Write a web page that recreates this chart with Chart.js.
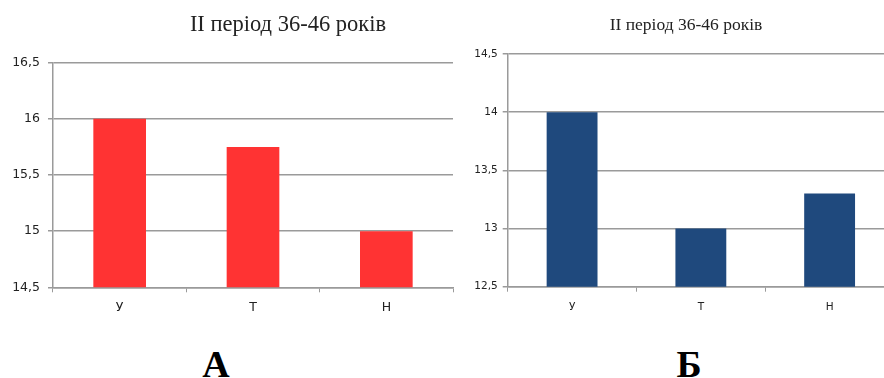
<!DOCTYPE html>
<html>
<head>
<meta charset="utf-8">
<script src="https://cdn.jsdelivr.net/npm/chart.js@4/dist/chart.umd.min.js"></script>
<style>
  html,body{margin:0;padding:0;background:#fff;}
  body{width:884px;height:378px;position:relative;overflow:hidden;}
  .box{position:absolute;}
  .ttl{position:absolute;font-family:"Liberation Serif",serif;color:#222;line-height:1;white-space:nowrap;transform:translateX(-50%);}
  .lbl{position:absolute;font-family:"Liberation Serif",serif;font-weight:bold;color:#000;line-height:1;font-size:38px;transform:translateX(-50%);}
</style>
</head>
<body>
<div class="box" style="left:0;top:0;width:460px;height:330px;"><canvas id="chartA"></canvas></div>
<div class="box" style="left:460px;top:0;width:434px;height:330px;"><canvas id="chartB"></canvas></div>
<div class="ttl" id="titleA" style="left:288px;top:13px;font-size:22.5px;"></div>
<div class="ttl" id="titleB" style="left:686px;top:16px;font-size:17.5px;"></div>
<div class="lbl" style="left:216px;top:345px;">А</div>
<div class="lbl" style="left:689px;top:345px;">Б</div>
<script>
const title = 'II період 36-46 років';
const categories = ['У', 'Т', 'Н'];

const valuesA = [16, 15.75, 15];
const ticksA = ['14,5', '15', '15,5', '16', '16,5'];

const valuesB = [14, 13, 13.3];
const ticksB = ['12,5', '13', '13,5', '14', '14,5'];

document.getElementById('titleA').textContent = title;
document.getElementById('titleB').textContent = title;

function makeChart(id, values, tickLabels, color, opt){
  const min = parseFloat(tickLabels[0].replace(',', '.'));
  const max = parseFloat(tickLabels[tickLabels.length-1].replace(',', '.'));
  return new Chart(document.getElementById(id), {
    type: 'bar',
    data: {
      labels: categories,
      datasets: [{ data: values, backgroundColor: color, barPercentage: 0.395, categoryPercentage: 1 }]
    },
    options: {
      responsive: true,
      maintainAspectRatio: false,
      animation: false,
      layout: { padding: { left: 0, right: opt.right, top: opt.top, bottom: 0 } },
      plugins: { legend: { display: false }, tooltip: { enabled: false } },
      scales: {
        x: {
          grid: { offset: true, drawOnChartArea: false, drawTicks: true, tickLength: 5, color: '#9a9a9a' },
          border: { color: '#9a9a9a', width: 1.5 },
          ticks: { color: '#222', font: { family: 'DejaVu Sans', size: opt.font }, padding: opt.xpad },
          afterFit: s => { s.height = opt.xh; }
        },
        y: {
          min, max,
          ticks: {
            stepSize: 0.5,
            color: '#222',
            font: { family: 'DejaVu Sans', size: opt.font },
            padding: opt.ypad,
            callback: (v, i) => tickLabels[i]
          },
          grid: { color: '#9a9a9a', lineWidth: 1.5, tickLength: 5 },
          border: { color: '#9a9a9a', width: 1.5 },
          afterFit: s => { s.width = opt.yw; }
        }
      }
    }
  });
}

makeChart('chartA', valuesA, ticksA, '#ff3333', { right: 7, top: 62.7, xh: 42.7, yw: 53, font: 12.5, xpad: 8, ypad: 8 });
makeChart('chartB', valuesB, ticksB, '#1f497d', { right: 0, top: 54, xh: 43.3, yw: 47.7, font: 10.5, xpad: 9, ypad: 5 });
</script>
</body>
</html>
